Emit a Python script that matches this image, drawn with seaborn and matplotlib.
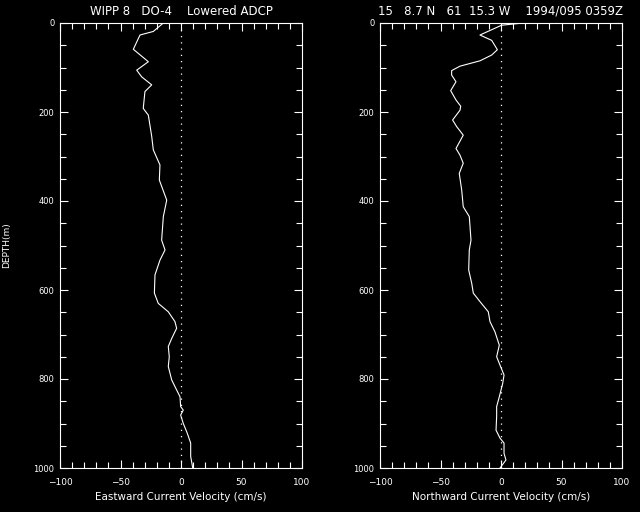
import numpy as np
import pandas as pd
import seaborn as sns
import matplotlib
matplotlib.use('Agg')
import matplotlib.pyplot as plt
from matplotlib.ticker import MultipleLocator

# eastward profile (depth m, velocity cm/s)
east_depth = [0, 19, 27, 59, 87, 106, 121, 139, 154, 192, 207, 255, 285, 319, 353,
              398, 435, 488, 510, 533, 566, 607, 630, 649, 671, 686, 709, 727, 750,
              772, 802, 817, 840, 862, 870, 881, 900, 922, 944, 974, 1000]
east_vel = [-14.6, -22.9, -33.9, -39.4, -27, -36.6, -32.5, -24.2, -29.8, -31.2, -27,
            -24.2, -22.9, -17.4, -17.9, -11.8, -14.6, -16, -13.2, -17.4, -21.5, -22,
            -18.8, -10.5, -5, -3.6, -7.7, -10.5, -9.7, -10.5, -7.7, -5, -0.8, -0.3,
            1.9, -0.3, 1.9, 5.2, 8, 8, 9.7]

# northward profile
north_depth = [0, 5, 27, 39, 60, 72, 85, 97, 107, 117, 132, 152, 173, 187, 196, 218,
               233, 252, 282, 297, 315, 338, 375, 413, 435, 488, 510, 555, 585, 607,
               626, 649, 671, 694, 724, 750, 769, 791, 810, 840, 862, 884, 915, 933,
               944, 967, 982, 1000]
north_vel = [18.4, 0.5, -17.4, -7.7, -3, -7.7, -17.4, -33.9, -40.8, -40.8, -37.2,
             -41.6, -37.2, -33.3, -33.9, -40, -36.6, -31.2, -37.2, -33.9, -31.2, -34.5,
             -32.5, -31.2, -26.2, -24.8, -26.2, -26.7, -24.2, -22.9, -17.4, -10.5, -9.1,
             -5, -1.4, -3.6, -0.8, 2.5, 1.4, -1.4, -3.6, -3.6, -4.1, -0.8, 2.5, 2.5,
             4.1, -0.8]

titles = ['WIPP 8   DO-4    Lowered ADCP',
          '15   8.7 N   61  15.3 W    1994/095 0359Z']
xlabels = ['Eastward Current Velocity (cm/s)', 'Northward Current Velocity (cm/s)']

sns.set_style('ticks', rc={
    'figure.facecolor': 'black', 'axes.facecolor': 'black',
    'axes.edgecolor': 'white', 'axes.labelcolor': 'white',
    'text.color': 'white', 'xtick.color': 'white', 'ytick.color': 'white',
    'xtick.direction': 'in', 'ytick.direction': 'in',
})
plt.rcParams['font.family'] = ['DejaVu Sans']

fig = plt.figure(figsize=(6.4, 5.12), dpi=100)
lefts = [60 / 640, 380 / 640]
profiles = [(east_vel, east_depth), (north_vel, north_depth)]

for i, (vel, depth) in enumerate(profiles):
    ax = fig.add_axes([lefts[i], 44 / 512, 242 / 640, 445 / 512])
    df = pd.DataFrame({'vel': vel, 'depth': depth})
    sns.lineplot(data=df, x='vel', y='depth', orient='y', sort=False,
                 estimator=None, color='white', lw=0.8, ax=ax)
    ax.axvline(0, color='white', lw=0.9, ls=(0, (1, 4)))
    ax.set_xlim(-100, 100)
    ax.set_ylim(1000, 0)
    ax.xaxis.set_major_locator(MultipleLocator(50))
    ax.xaxis.set_minor_locator(MultipleLocator(10))
    ax.yaxis.set_major_locator(MultipleLocator(200))
    ax.yaxis.set_minor_locator(MultipleLocator(50))
    ax.tick_params(which='both', top=True, right=True, width=0.8)
    ax.tick_params(which='major', length=6)
    ax.tick_params(which='minor', length=4)
    ax.tick_params(axis='x', pad=7, labelsize=6.5)
    ax.tick_params(axis='y', pad=4, labelsize=6)
    for s in ax.spines.values():
        s.set_linewidth(0.8)
    ax.set_xlabel(xlabels[i], fontsize=7.5, labelpad=4)
    ax.set_ylabel('DEPTH(m)' if i == 0 else '', fontsize=6.5, labelpad=16)
    ax.set_title(titles[i], fontsize=8.5, pad=6)

fig.savefig('out.png', dpi=100, facecolor='black')
